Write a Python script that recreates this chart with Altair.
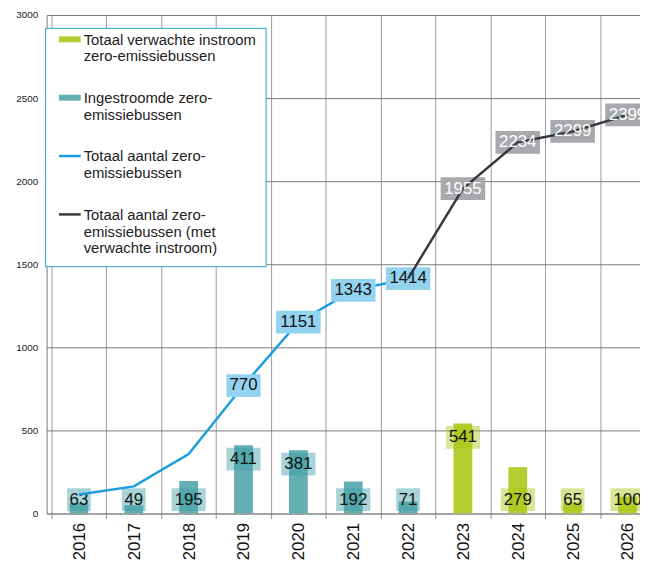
import altair as alt
import pandas as pd

# ---------------- data ----------------
years_teal = [2016, 2017, 2018, 2019, 2020, 2021, 2022]
inflow_teal = [63, 49, 195, 411, 381, 192, 71]
years_green = [2023, 2024, 2025, 2026]
inflow_green = [541, 279, 65, 100]
years_blue = [2016, 2017, 2018, 2019, 2020, 2021, 2022]
total_blue = [114, 163, 358, 770, 1151, 1343, 1414]
years_dark = [2022, 2023, 2024, 2025, 2026]
total_dark = [1414, 1955, 2234, 2299, 2399]
legend_names = [
    "Totaal verwachte instroom|zero-emissiebussen",
    "Ingestroomde zero-|emissiebussen",
    "Totaal aantal zero-|emissiebussen",
    "Totaal aantal zero-|emissiebussen (met|verwachte instroom)",
]
y_ticks = [0, 500, 1000, 1500, 2000, 2500, 3000]
x_bounds = [2015.5, 2016.5, 2017.5, 2018.5, 2019.5, 2020.5, 2021.5,
            2022.5, 2023.5, 2024.5, 2025.5]

# ---------------- styles ----------------
FONT = "Liberation Sans"
TEAL = "#63afb3"
GREEN = "#b6cd2f"
BLUE = "#1b9de0"
DARK = "#353b41"
legend_colors = [GREEN, TEAL, BLUE, DARK]


def box_path(label):
    hw = 1.5 + 5.25 * len(label)
    hh = 11.5
    return f"M{-hw},{-hh}H{hw}V{hh}H{-hw}Z"


def swatch(half_h, center, half_w=5.5):
    a = center - half_h
    b = center + half_h
    return f"M{-half_w},{a:.3f}H{half_w}V{b:.3f}H{-half_w}Z"


legend_paths = [swatch(1.5, -2.7), swatch(1.5, -2.7),
                swatch(0.625, -2.7), swatch(0.625, -2.7)]


def frame(years, vals):
    df = pd.DataFrame({"year": years, "v": vals})
    df["label"] = df["v"].astype(str)
    df["path"] = df["label"].map(box_path)
    return df


teal_df = frame(years_teal, inflow_teal)
green_df = frame(years_green, inflow_green)
blue_df = frame(years_blue, total_blue)
dark_df = frame(years_dark, total_dark)
legend_df = pd.DataFrame({"name": legend_names})

x_axis = alt.Axis(
    values=x_bounds, labelExpr="format(datum.value + 0.5, 'd')",
    labelAngle=-90, labelOffset=28.2, labelFlush=False, labelOverlap=False,
    labelFontSize=17, labelFont=FONT, labelColor="#111", labelPadding=4,
    tickSize=5, tickColor="#8a8a8a", gridColor="#9a9a9a", domainColor="#8a8a8a",
    title=None, grid=True,
)
y_axis = alt.Axis(
    values=y_ticks, format="d", grid=True, gridColor="#7a7a7a",
    domainColor="#7a7a7a", ticks=False, labelPadding=9, labelFontSize=10,
    labelFont=FONT, labelColor="#222", title=None,
)
x_enc = alt.X("year:Q", scale=alt.Scale(domain=[2015.5, 2026.138], nice=False, zero=False),
              axis=x_axis)
y_scale = alt.Scale(domain=[0, 3000], nice=False)
y_enc = alt.Y("v:Q", scale=y_scale, axis=y_axis)
y_zero = alt.Y("zero:Q", scale=y_scale, axis=y_axis)


def bars(df, color):
    return alt.Chart(df).mark_bar(size=19, color=color, clip=True).encode(x=x_enc, y=y_enc)


def bar_labels(df, box_color):
    base = alt.Chart(df).transform_calculate(zero="0")
    top_box = base.transform_filter("datum.v >= 300").mark_point(
        filled=True, size=4, color=box_color, opacity=1, fillOpacity=0.45, strokeWidth=0,
        yOffset=14, clip=True).encode(
        x=x_enc, y=y_enc, shape=alt.Shape("path:N", scale=None))
    top_txt = base.transform_filter("datum.v >= 300").mark_text(
        fontSize=17, font=FONT, color="#111", yOffset=14, baseline="middle",
        clip=True).encode(x=x_enc, y=y_enc, text="label:N")
    low_box = base.transform_filter("datum.v < 300").mark_point(
        filled=True, size=4, color=box_color, opacity=1, fillOpacity=0.45, strokeWidth=0,
        yOffset=-14, clip=True).encode(
        x=x_enc, y=y_zero, shape=alt.Shape("path:N", scale=None))
    low_txt = base.transform_filter("datum.v < 300").mark_text(
        fontSize=17, font=FONT, color="#111", yOffset=-14, baseline="middle",
        clip=True).encode(x=x_enc, y=y_zero, text="label:N")
    return [top_box, low_box, top_txt, low_txt]


blue_line = alt.Chart(blue_df).mark_line(color=BLUE, strokeWidth=2.5, clip=True).encode(
    x=x_enc, y=y_enc)
blue_lab = alt.Chart(blue_df).transform_filter("datum.year >= 2019")
blue_box = blue_lab.mark_point(filled=True, size=4, color="#93d3ef", opacity=1,
                               strokeWidth=0, clip=True).encode(
    x=x_enc, y=y_enc, shape=alt.Shape("path:N", scale=None))
blue_txt = blue_lab.mark_text(fontSize=17, font=FONT, color="#111", baseline="middle",
                              clip=True).encode(x=x_enc, y=y_enc, text="label:N")

dark_lab = alt.Chart(dark_df).transform_filter("datum.year >= 2023")
dark_box = dark_lab.mark_point(filled=True, size=4, color="#a8a9ac", opacity=1,
                               strokeWidth=0, clip=True).encode(
    x=x_enc, y=y_enc, shape=alt.Shape("path:N", scale=None))
dark_line = alt.Chart(dark_df).mark_line(color=DARK, strokeWidth=2.5, clip=True).encode(
    x=x_enc, y=y_enc)
dark_txt = dark_lab.mark_text(fontSize=17, font=FONT, color="white", baseline="middle",
                              clip=True).encode(x=x_enc, y=y_enc, text="label:N")

leg = alt.Legend(
    orient="none", legendX=-1.5, legendY=13, title=None, fillColor="white",
    strokeColor="#2aa0d8", padding=9.5, symbolSize=16, symbolStrokeWidth=0,
    symbolOpacity=1, symbolOffset=8, labelFontSize=15, labelFont=FONT,
    labelColor="#222", labelLimit=400, labelExpr="split(datum.label, '|')",
    rowPadding=26, labelOffset=6.5, labelBaseline="alphabetic",
    direction="vertical",
)
legend_layer = alt.Chart(legend_df).mark_point(
    filled=True, size=16, opacity=1, clip=True).encode(
    x=alt.value(-1000), y=alt.value(-1000),
    color=alt.Color("name:N", scale=alt.Scale(domain=legend_names, range=legend_colors),
                    legend=leg),
    shape=alt.Shape("name:N", scale=alt.Scale(domain=legend_names, range=legend_paths),
                    legend=leg),
)

layers = [bars(teal_df, TEAL), bars(green_df, GREEN)]
layers += bar_labels(teal_df, "#3ea0a6")
layers += bar_labels(green_df, "#a8c516")
layers += [blue_line, blue_box, blue_txt, dark_box, dark_line, dark_txt, legend_layer]

chart = alt.layer(*layers).properties(
    width=600, height=504,
    autosize=alt.AutoSizeParams(type="none"),
    padding={"left": 39, "top": 4, "right": 0, "bottom": 50},
).configure_view(strokeWidth=0)

chart.save("out.html", embed_options={"renderer": "svg", "actions": False})
